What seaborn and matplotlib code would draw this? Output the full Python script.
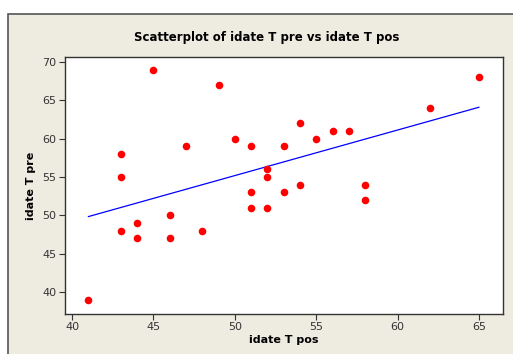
import matplotlib
matplotlib.use("Agg")
import matplotlib.pyplot as plt
import seaborn as sns
import pandas as pd
from matplotlib.patches import Rectangle

idate_T_pos = [41, 43, 43, 43, 44, 44, 45, 46, 46, 47, 48, 49, 50, 51, 51, 51, 52, 52, 52,
               53, 53, 54, 54, 55, 56, 57, 58, 58, 62, 65]
idate_T_pre = [39, 58, 55, 48, 49, 47, 69, 50, 47, 59, 48, 67, 60, 59, 53, 51, 56, 55, 51,
               59, 53, 62, 54, 60, 61, 61, 54, 52, 64, 68]
x_ticks = [40, 45, 50, 55, 60, 65]
y_ticks = [40, 45, 50, 55, 60, 65, 70]

df = pd.DataFrame({"idate T pos": idate_T_pos, "idate T pre": idate_T_pre})

sns.set_style("white")
plt.rcParams['font.family'] = ['DejaVu Sans']

W, H = 513, 354
fig = plt.figure(figsize=(W / 100, H / 100), dpi=100, facecolor="white")
bg = "#EEEBE1"
fig.patches.append(Rectangle((8 / W, -0.05), 1.1, (H - 14) / H + 0.05,
                             transform=fig.transFigure, facecolor=bg,
                             edgecolor="#555555", linewidth=1.2, zorder=-10))

ax = fig.add_axes([65 / W, (H - 314) / H, (503 - 65) / W, (314 - 57) / H])
ax.set_facecolor("white")

sns.regplot(data=df, x="idate T pos", y="idate T pre", ax=ax, ci=None, truncate=True,
            scatter_kws=dict(color="#FF0000", s=30, linewidths=0, zorder=3, alpha=1),
            line_kws=dict(color="#0000FF", linewidth=0.9, zorder=2))

ax.set_xlim(39.57, 66.47)
ax.set_ylim(37.13, 70.64)
ax.set_xticks(x_ticks)
ax.set_yticks(y_ticks)
ax.tick_params(axis="both", direction="out", length=4, width=0.8, labelsize=8,
               colors="#333333", bottom=True, left=True, pad=2)
ax.tick_params(axis="both", labelcolor="#333333")
for sp in ax.spines.values():
    sp.set_color("#333333")
    sp.set_linewidth(1.0)

ax.set_xlabel("idate T pos", fontsize=8, fontweight="bold", labelpad=2, color="black")
ax.set_ylabel("idate T pre", fontsize=8, fontweight="bold", labelpad=5, color="black")
fig.text(267 / W, (H - 37) / H, "Scatterplot of idate T pre vs idate T pos",
         ha="center", va="center", fontsize=8.5, fontweight="bold", color="black")

fig.savefig("out.png", dpi=100, facecolor="white")
